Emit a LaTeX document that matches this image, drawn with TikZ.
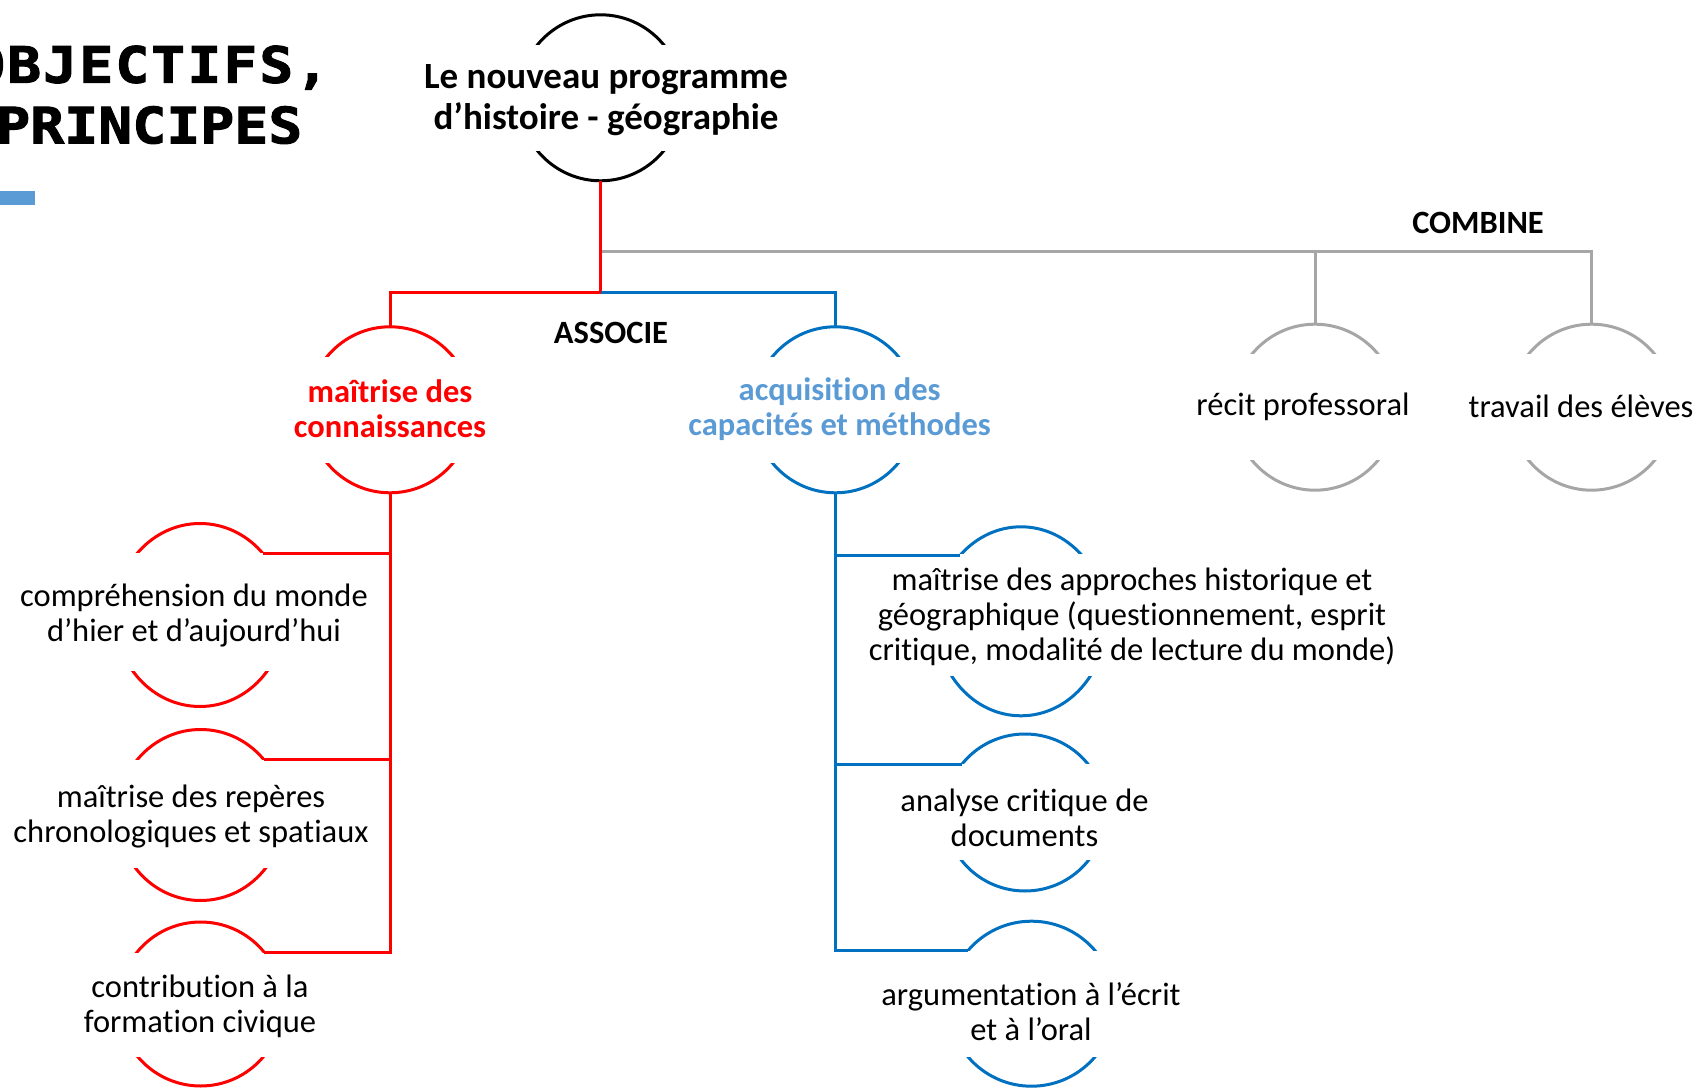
\documentclass[tikz,border=0pt]{standalone}
\usepackage{fontspec}
\setmainfont[Ligatures=CommonOff]{Carlito}
\newfontfamily\titlefont[FakeStretch=1.13, FakeBold=2]{DejaVu Sans Mono Bold}
\usetikzlibrary{shapes.geometric}
\definecolor{redline}{HTML}{FF0000}
\definecolor{blueline}{HTML}{0070C0}
\definecolor{bluetext}{HTML}{5B9BD5}
\definecolor{grayline}{HTML}{A6A6A6}

\begin{document}
\begin{tikzpicture}[x=1pt, y=1pt,
    ring/.style={ellipse, draw=#1, line width=3pt, inner sep=0pt, outer sep=0pt},
    mask/.style={fill=white, inner sep=0pt, minimum width=180pt},
    txt/.style={align=center, inner sep=0pt, font=\fontsize{32.5}{35.2}\selectfont},
    boldtxt/.style={txt, font=\fontsize{32.5}{35.2}\selectfont\bfseries},
    titletxt/.style={anchor=base west, inner sep=0pt, font=\titlefont\fontsize{50}{60}\selectfont},
    link/.style={draw=#1, line width=3pt}
   ]
   \useasboundingbox (0,0) rectangle (1702,1088);

   % titre
   \node[titletxt, font=\titlefont\fontsize{50}{60}\selectfont\addfontfeature{LetterSpace=4}] (title1) at (-29,1005.3) {OBJECTIFS,};
   \node[titletxt] (title2) at (-4,944.7) {PRINCIPES};
   \fill[bluetext] (0,883) rectangle (35,897);

   \node[ring=black, minimum width=164pt, minimum height=166pt] (prog) at (600.6,990.2) {};
   \node[mask, minimum height=106pt] (prog-m) at (600.6,990) {};
   \node[txt, font=\fontsize{37}{41}\selectfont\bfseries] (prog-t) at (606,988) {Le nouveau programme\\d’histoire - géographie};

   \node[ring=redline, minimum width=164pt, minimum height=166pt] (conn) at (390,678.2) {};
   \node[mask, minimum height=106pt] (conn-m) at (390,678) {};
   \node[boldtxt, text=redline] (conn-t) at (390,679) {maîtrise des\\connaissances};
   \node[ring=blueline, minimum width=164pt, minimum height=166pt] (capa) at (835.4,678.2) {};
   \node[mask, minimum height=106pt] (capa-m) at (835.4,678) {};
   \node[boldtxt, text=bluetext] (capa-t) at (839.6,679) {acquisition des\\capacités et méthodes};
   \node[ring=grayline, minimum width=164pt, minimum height=166pt] (recit) at (1315,680.8) {};
   \node[mask, minimum height=105.6pt] (recit-m) at (1315,681.2) {};
   \node[txt] (recit-t) at (1303,681.2) {récit professoral};
   \node[ring=grayline, minimum width=164pt, minimum height=166pt] (trav) at (1591.6,680.8) {};
   \node[mask, minimum height=105.6pt] (trav-m) at (1591.6,681.2) {};
   \node[txt] (trav-t) at (1581,681.2) {travail des élèves};

   \node[ring=redline, minimum width=170pt, minimum height=183pt] (k1) at (200,473) {};
   \node[mask, minimum height=117.4pt] (k1-m) at (200,476) {};
   \node[txt] (k1-t) at (194,472.2) {compréhension du monde\\d’hier et d’aujourd’hui};
   \node[ring=redline, minimum width=166pt, minimum height=171pt] (k2) at (200.6,273) {};
   \node[mask, minimum height=108.6pt] (k2-m) at (200.6,273.9) {};
   \node[txt] (k2-t) at (191,271.7) {maîtrise des repères\\chronologiques et spatiaux};
   \node[ring=redline, minimum width=164pt, minimum height=164pt] (k3) at (200.6,84) {};
   \node[mask, minimum height=104.7pt] (k3-m) at (200.6,83) {};
   \node[txt] (k3-t) at (200,82) {contribution à la\\formation civique};

   \node[ring=blueline, minimum width=170pt, minimum height=189pt] (a1) at (1021,466.7) {};
   \node[mask, minimum height=121.6pt] (a1-m) at (1021,472.8) {};
   \node[txt] (a1-t) at (1132,471.3) {maîtrise des approches historique et\\géographique (questionnement, esprit\\critique, modalité de lecture du monde)};
   \node[ring=blueline, minimum width=160pt, minimum height=157pt] (a2) at (1025,275.5) {};
   \node[mask, minimum height=96.1pt] (a2-m) at (1025,275.6) {};
   \node[txt] (a2-t) at (1024.5,270.2) {analyse critique de\\documents};
   \node[ring=blueline, minimum width=166pt, minimum height=165pt] (a3) at (1031.5,84.3) {};
   \node[mask, minimum height=106.8pt] (a3-m) at (1031.5,84) {};
   \node[txt] (a3-t) at (1031,76.4) {argumentation à l’écrit\\et à l’oral};

   \node[anchor=base, font=\fontsize{32.5}{35.2}\selectfont\bfseries] (assoc) at (611,744.5) {ASSOCIE};
   \node[anchor=base, font=\fontsize{32.5}{35.2}\selectfont\bfseries] (comb) at (1478,854) {COMBINE};

   \coordinate (bar) at ([yshift=-70.5pt]prog.south);
   \coordinate (fork) at ([yshift=-112pt]prog.south);
   \draw[link=grayline] (bar) -| (trav.north);
   \draw[link=grayline] (bar -| recit.north) -- (recit.north);
   \draw[link=redline] (prog.south) -- (fork) -| (conn.north);
   \draw[link=blueline] (fork) -| (capa.north);

   \draw[link=redline] (conn.south) |- (k3.39);
   \draw[link=redline] (k1.44) -- (k1.44 -| conn.south);
   \draw[link=redline] (k2.41) -- (k2.41 -| conn.south);
   \draw[link=blueline] (capa.south) |- (a3.140);
   \draw[link=blueline] (a1.133) -- (a1.133 -| capa.south);
   \draw[link=blueline] (a2.143) -- (a2.143 -| capa.south);
\end{tikzpicture}
\end{document}
